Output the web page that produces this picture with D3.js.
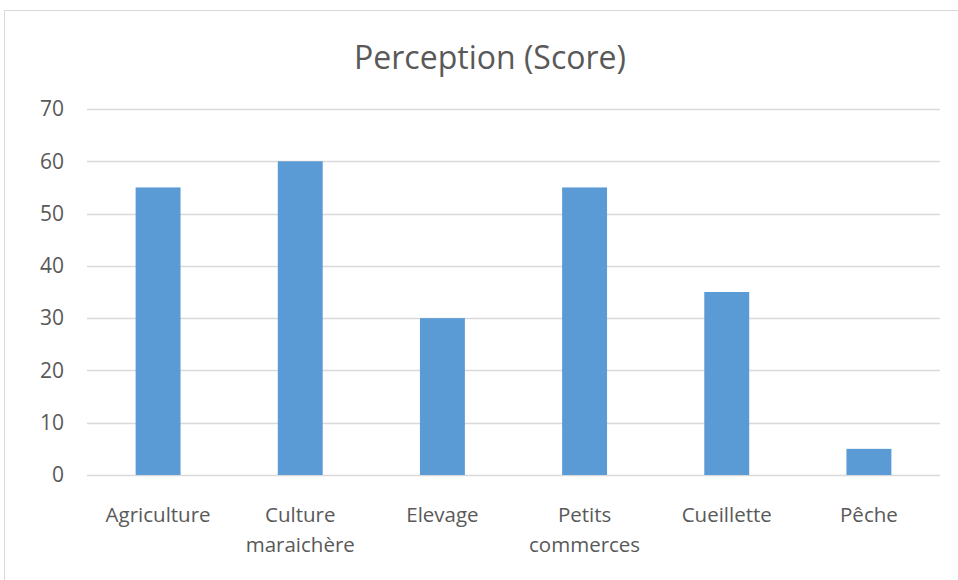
<!DOCTYPE html>
<html>
<head>
<meta charset="utf-8">
<script src="https://d3js.org/d3.v7.min.js"></script>
<style>
body { margin: 0; background: #fff; }
text { font-family: "Open Sans", sans-serif; fill: #595959; }
</style>
</head>
<body>
<div id="chart"></div>
<script>
var categories = [["Agriculture"], ["Culture", "maraichère"], ["Elevage"], ["Petits", "commerces"], ["Cueillette"], ["Pêche"]];
var scores = [55, 60, 30, 55, 35, 5];
var yTicks = [0, 10, 20, 30, 40, 50, 60, 70];
var title = "Perception (Score)";

var width = 958, height = 580;
var margin = {left: 87, right: 18, top: 109, bottom: 105};

var svg = d3.select("#chart").append("svg")
    .attr("width", width).attr("height", height);

// chart frame
svg.append("rect")
    .attr("x", 4.5).attr("y", 10.5)
    .attr("width", width).attr("height", height)
    .attr("fill", "none").attr("stroke", "#d9d9d9");

var x = d3.scaleBand()
    .domain(categories.map(function(d) { return d.join(" "); }))
    .range([margin.left, width - margin.right])
    .paddingInner(0.684).paddingOuter(0.342);

var y = d3.scaleLinear()
    .domain([0, 70])
    .range([height - margin.bottom, margin.top]);

// gridlines
svg.append("g").selectAll("line")
    .data(yTicks)
    .enter().append("line")
    .attr("x1", margin.left).attr("x2", width - margin.right)
    .attr("y1", function(d) { return Math.round(y(d)) + 0.5; })
    .attr("y2", function(d) { return Math.round(y(d)) + 0.5; })
    .attr("stroke", "#d9d9d9").attr("stroke-width", 1.5);

// y labels
svg.append("g").selectAll("text")
    .data(yTicks)
    .enter().append("text")
    .attr("x", 64).attr("y", function(d) { return y(d); })
    .attr("dy", "0.35em")
    .attr("text-anchor", "end")
    .attr("font-size", 21)
    .text(function(d) { return d; });

// bars
svg.append("g").selectAll("rect")
    .data(scores)
    .enter().append("rect")
    .attr("x", function(d, i) { return x(categories[i].join(" ")); })
    .attr("width", x.bandwidth())
    .attr("y", function(d) { return y(d); })
    .attr("height", function(d) { return y(0) - y(d); })
    .attr("fill", "#5b9bd5");

// x labels
var xl = svg.append("g").selectAll("text")
    .data(categories)
    .enter().append("text")
    .attr("text-anchor", "middle")
    .attr("font-size", 20.5)
    .attr("transform", function(d) {
        return "translate(" + (x(d.join(" ")) + x.bandwidth() / 2) + ",522)";
    });
xl.selectAll("tspan")
    .data(function(d) { return d; })
    .enter().append("tspan")
    .attr("x", 0)
    .attr("y", function(d, i) { return i * 30; })
    .text(function(d) { return d; });

svg.append("text")
    .attr("x", 490).attr("y", 69)
    .attr("text-anchor", "middle")
    .attr("font-size", 32)
    .text(title);
</script>
</body>
</html>
